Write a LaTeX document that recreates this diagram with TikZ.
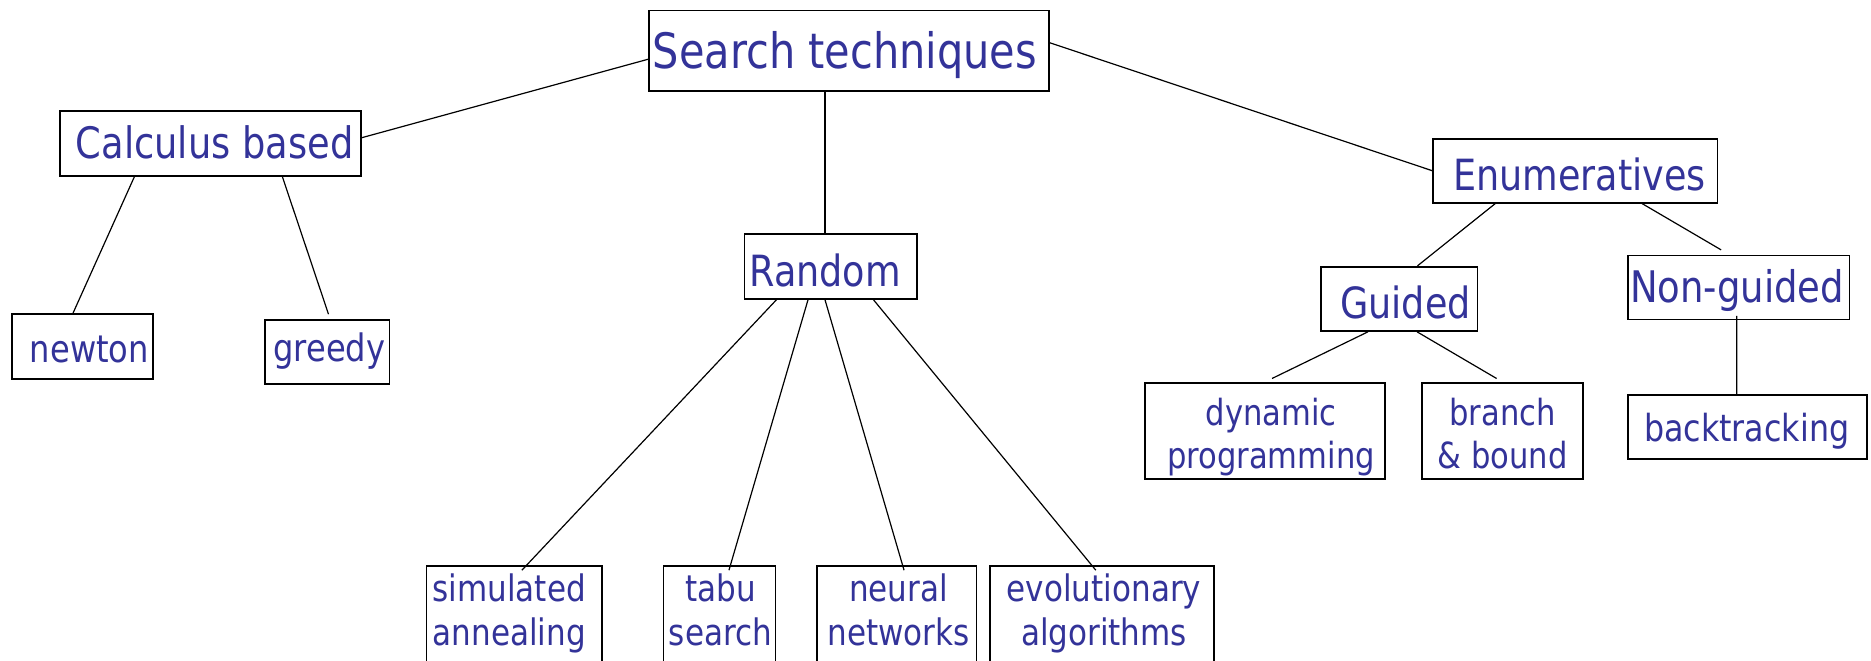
\documentclass[tikz,border=0pt]{standalone}
\usepackage{fontspec}
\newfontfamily\tah{DejaVu Sans}[FakeStretch=0.85]
\definecolor{tc}{RGB}{51,51,153}
\newcommand\tx[4]{\fontsize{#1pt}{43.3pt}\selectfont\raisebox{-#3pt}{\makebox[0pt]{\hspace{#2pt}\hspace{#2pt}#4}}}
\newcommand\two[2]{\begin{tabular}[t]{@{}c@{}}#1\\#2\end{tabular}}
\tikzset{
  box/.style={draw, line width=1.6pt, inner sep=0pt, text height=0pt, text depth=0pt, font=\tah, text=tc},
  link/.style={draw, line width=1.2pt}
}
\begin{document}
\begin{tikzpicture}[x=1pt, y=-1pt]
\clip (0,0) rectangle (1871,661);
\fill[white] (0,0) rectangle (1871,661);
% nodes
\node[box, minimum width=400.1pt, minimum height=80pt] (root) at (848.75,50.7) {\tx{48.8}{-3.75}{17.6}{Search techniques}};
\node[box, minimum width=301pt, minimum height=64.7pt] (calc) at (210.5,143.35) {\tx{43.3}{4.1}{14.95}{Calculus based}};
\node[box, minimum width=172.4pt, minimum height=65pt] (rand) at (830.8,266.5) {\tx{43}{-5.6}{20.2}{Random}};
\node[box, minimum width=284.5pt, minimum height=64pt] (enum) at (1575.25,170.7) {\tx{43}{4.2}{20}{Enumeratives}};
\node[box, minimum width=156.4pt, minimum height=64.3pt] (guided) at (1399.2,298.85) {\tx{43}{6.2}{19.45}{Guided}};
\node[box, minimum width=221.3pt, minimum height=64pt] (nong) at (1738.65,287.3) {\tx{43.5}{-1.6}{15}{Non-guided}};
\node[box, minimum width=141pt, minimum height=65pt] (newton) at (82.5,346.5) {\tx{37.8}{7}{16.2}{newton}};
\node[box, minimum width=124.6pt, minimum height=64pt] (greedy) at (327.3,352) {\tx{37.8}{2}{9.7}{greedy}};
\node[box, minimum width=238.7pt, minimum height=64pt] (back) at (1747.35,427) {\tx{37.3}{-0.7}{14.7}{backtracking}};
\node[box, minimum width=240pt, minimum height=96.3pt] (dp) at (1265,430.85) {\tx{36}{6}{-5.85}{\two{dynamic}{programming}}};
\node[box, minimum width=161pt, minimum height=96.3pt] (bb) at (1502.5,430.85) {\tx{36}{0}{-5.85}{\two{branch}{\& bound}}};
\node[box, minimum width=175.6pt, minimum height=109pt] (sim) at (514.2,620.5) {\tx{36.5}{-5}{-18.8}{\two{simulated}{annealing}}};
\node[box, minimum width=111.9pt, minimum height=109pt] (tabu) at (719.45,620.5) {\tx{36.5}{1}{-18.8}{\two{tabu}{search}}};
\node[box, minimum width=159.5pt, minimum height=109pt] (neural) at (896.55,620.5) {\tx{36.5}{2}{-18.8}{\two{neural}{networks}}};
\node[box, minimum width=224pt, minimum height=109pt] (evol) at (1102,620.5) {\tx{36.5}{2}{-18.8}{\two{evolutionary}{algorithms}}};
% connectors
\path[link] ([yshift=-8.6pt]root.west) -- ([yshift=5.65pt]calc.east);
\path[link] ([yshift=8pt]root.east) -- (enum.west);
\path[link] ([xshift=-23.75pt]root.south) -- ([xshift=-5.8pt]rand.north);
\path[link] ([xshift=-76pt]calc.south) -- ([xshift=-9.5pt]newton.north);
\path[link] ([xshift=71.8pt]calc.south) -- ([shift={(1.2pt,5pt)}]greedy.north);
\path[link] ([xshift=-54.4pt]rand.south) -- ([shift={(7.7pt,-5pt)}]sim.north);
\path[link] ([xshift=-22.8pt]rand.south) -- ([shift={(9.5pt,-5pt)}]tabu.north);
\path[link] ([xshift=-5.8pt]rand.south) -- ([shift={(7.5pt,-5pt)}]neural.north);
\path[link] ([xshift=42.7pt]rand.south) -- ([shift={(-6.2pt,-5pt)}]evol.north);
\path[link] ([xshift=-79.9pt]enum.south) -- ([xshift=18.2pt]guided.north);
\path[link] ([xshift=66.7pt]enum.south) -- ([shift={(-17.5pt,4.6pt)}]nong.north);
\path[link] ([xshift=-31.2pt]guided.south) -- ([shift={(7pt,3.4pt)}]dp.north);
\path[link] ([xshift=17.8pt]guided.south) -- ([shift={(-5.9pt,3.4pt)}]bb.north);
\path[link] ([shift={(-1.95pt,4.3pt)}]nong.south) -- ([xshift=-10.65pt]back.north);
\end{tikzpicture}
\end{document}
